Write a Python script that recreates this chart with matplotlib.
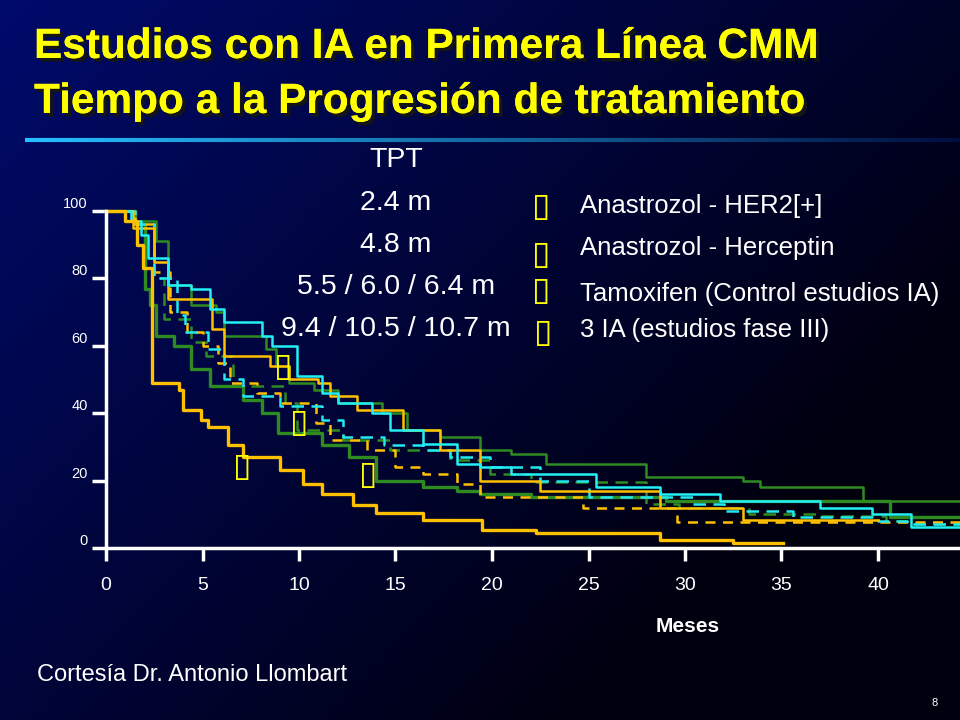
import numpy as np
import matplotlib
matplotlib.use("Agg")
import matplotlib.pyplot as plt
import matplotlib.patheffects as pe

# ---- data ----
title1 = "Estudios con IA en Primera Línea CMM"
title2 = "Tiempo a la Progresión de tratamiento"
tpt_labels = ["TPT", "2.4 m", "4.8 m", "5.5 / 6.0 / 6.4 m", "9.4 / 10.5 / 10.7 m"]
legend_labels = ["Anastrozol - HER2[+]", "Anastrozol - Herceptin",
                 "Tamoxifen (Control estudios IA)", "3 IA (estudios fase III)"]
x_ticks = [0, 5, 10, 15, 20, 25, 30, 35, 40]
y_ticks = [0, 20, 40, 60, 80, 100]

yel_low_t = [0, 1.0, 1.6, 1.9, 2.4, 3.8, 4.0, 4.9, 5.3, 6.3, 7.1, 9.0, 10.2, 11.2, 12.8, 14.0, 16.4, 19.5, 22.3, 28.7, 32.5, 35.1]
yel_low_s = [100, 97, 90, 83, 49, 47, 41, 38, 36, 30.6, 27, 23, 19, 16, 12.8, 10.4, 8.3, 5.3, 4.5, 2.4, 1.5, 1.5]

yel_up_t = [0, 1.4, 2.5, 3.2, 5.5, 6.1, 8.5, 9.5, 11.0, 11.6, 13.0, 15.4, 17.3, 19.4, 22.5, 28.7, 33.0, 40.0]
yel_up_s = [100, 95, 85, 74, 65, 57, 54, 50, 49, 45, 41, 35, 29, 20, 17, 12, 8.3, 8.3]

yel_dash_t = [0, 1.5, 2.5, 3.3, 4.2, 5.0, 5.8, 6.4, 7.8, 9.0, 10.9, 11.6, 13.5, 15.0, 16.4, 18.2, 19.4, 24.7, 29.6, 44.5]
yel_dash_s = [100, 96, 82, 70, 64, 60, 55, 49, 46, 43, 37, 32, 29, 24, 22, 19, 15, 12, 7.7, 7.7]

cyan_t = [0, 1.3, 1.8, 2.2, 3.2, 4.4, 5.4, 6.1, 8.1, 8.6, 9.9, 11.2, 12.0, 13.8, 14.7, 16.4, 18.2, 19.4, 21.0, 25.4, 28.7, 31.8, 37.0, 39.7, 41.7, 44.5]
cyan_s = [100, 97, 93, 86, 78, 77, 71, 67, 63, 60, 51, 46, 43, 40, 35, 31, 25, 24, 22, 18, 16, 14, 12, 10, 6.3, 6.3]

cyan_dash_t = [0, 1.5, 2.5, 3.7, 4.1, 5.3, 6.1, 7.1, 9.0, 11.2, 12.3, 14.4, 16.4, 17.8, 19.9, 22.5, 25.0, 30.4, 32.0, 35.6, 40.0, 41.5, 44.5]
cyan_dash_s = [100, 96, 80, 69, 64, 59, 50, 45, 42, 38, 33, 30.5, 29, 27, 24, 20, 15, 13, 11, 9.2, 8, 7, 7]

green_up_t = [0, 1.5, 2.6, 3.2, 4.4, 5.7, 6.1, 8.3, 8.8, 9.5, 10.8, 12.0, 14.3, 15.6, 17.3, 19.4, 21.0, 22.8, 28.0, 33.0, 33.9, 39.2, 44.5]
green_up_s = [100, 97, 91, 78, 72, 70, 63, 59, 54, 49, 47, 43, 40, 35, 33, 29, 28, 25, 21, 20, 18, 14, 13]

green_low_t = [0, 1.5, 2.0, 2.3, 2.6, 3.5, 4.4, 5.4, 7.1, 8.1, 8.9, 11.2, 12.6, 14.0, 16.4, 18.2, 19.4, 22.0, 29.0, 40.6, 44.5]
green_low_s = [100, 96, 77, 72, 63, 60, 53, 48, 44, 40, 34, 30.5, 27, 20, 18, 17, 16, 15, 13.8, 9.3, 9.3]

green_dash_t = [0, 1.5, 2.5, 3.0, 4.4, 5.2, 6.6, 9.3, 9.9, 12.3, 14.7, 17.8, 19.9, 22.0, 28.0, 29.7, 33.3, 36.8, 40.4, 41.5, 44.5]
green_dash_s = [100, 96, 80, 68, 61, 57, 48, 43, 35, 32, 29, 26, 22, 19.6, 13, 12, 10, 9.4, 8, 7, 7]

marker_pts_px = [(283, 367), (299, 423), (242, 466), (368, 474)]
legend_marker_px = [(541, 206), (541, 254), (541, 291), (543, 333)]

# ---- figure ----
W, H = 960, 720
fig = plt.figure(figsize=(9.6, 7.2), dpi=100)

bg = fig.add_axes([0, 0, 1, 1])
yy, xx = np.mgrid[0:1:200j, 0:1:200j]
f = np.clip(1 - (0.75 * xx + 0.55 * yy), 0, 1)
img = np.zeros((200, 200, 3))
img[..., 1] = 0.04 * f
img[..., 2] = 0.06 + 0.36 * f
bg.imshow(img, extent=[0, 1, 0, 1], aspect="auto", origin="upper")
bg.set_xlim(0, 1); bg.set_ylim(0, 1); bg.axis("off")

# separator line gradient
n = 200
xs = np.linspace(25, 960, n + 1)
for i in range(n):
    t = i / n
    c = (0.15 * (1 - t), 0.7 * (1 - t) + 0.05, 0.75 * (1 - t) + 0.25)
    bg.plot([xs[i] / W, xs[i + 1] / W], [1 - 140 / H] * 2, color=c, lw=3, solid_capstyle="butt")

def ftext(x, y, s, **kw):
    return fig.text(x / W, 1 - y / H, s, **kw)

shadow = [pe.withSimplePatchShadow(offset=(2.5, -2.5), shadow_rgbFace="#151515", alpha=1.0), pe.Normal()]
for dy, txt in [(0, title1), (1, title2)]:
    y = 47 + dy * 55
    t = ftext(34, y, txt, color="#FFFF00", fontsize=30.5, fontweight="bold", family="Liberation Sans", va="center")
    t.set_path_effects(shadow)

for y, s in zip([160, 203, 245, 287, 329], tpt_labels):
    ftext(396, y, s, color="white", fontsize=20.5, family="Liberation Sans", ha="center", va="center")
for y, s in zip([206, 248, 294, 330], legend_labels):
    ftext(580, y, s, color="white", fontsize=18.5, family="Liberation Sans", ha="left", va="center")
for (x, y) in legend_marker_px + marker_pts_px:
    ftext(x, y, "▯", color="#FFFF00", fontsize=24, family="DejaVu Sans", ha="center", va="center")

ftext(688, 627, "Meses", color="white", fontsize=15, fontweight="bold", family="Liberation Sans", ha="center", va="center")
ftext(37, 675, "Cortesía Dr. Antonio Llombart", color="white", fontsize=17, family="Liberation Sans", ha="left", va="center")
ftext(935, 703, "8", color="white", fontsize=8, family="Liberation Sans", ha="center", va="center")

# ---- main axes ----
x0, x1 = 106, 960
ytop, ybot = 200, 548
pxm = 19.3
pxp = 3.37
ax = fig.add_axes([x0 / W, 1 - ybot / H, (x1 - x0) / W, (ybot - ytop) / H])
ax.set_xlim(0, (x1 - x0) / pxm)
ax.set_ylim(0, (ybot - ytop) / pxp)
ax.patch.set_alpha(0)
for s in ["top", "right"]:
    ax.spines[s].set_visible(False)
for s in ["left", "bottom"]:
    ax.spines[s].set_color("white")
    ax.spines[s].set_linewidth(2.5)
ax.spines["left"].set_bounds(0, 100)

series = [
    (green_up_t, green_up_s, "#2E8B22", "-", 1.8),
    (green_low_t, green_low_s, "#2E8B22", "-", 2.4),
    (green_dash_t, green_dash_s, "#2E8B22", (0, (5, 3)), 1.8),
    (yel_dash_t, yel_dash_s, "#FFC000", (0, (4, 3)), 1.8),
    (cyan_dash_t, cyan_dash_s, "#22E8F0", (0, (5, 3)), 1.8),
    (yel_up_t, yel_up_s, "#FFC000", "-", 1.8),
    (cyan_t, cyan_s, "#22F0F4", "-", 1.8),
    (yel_low_t, yel_low_s, "#FFC000", "-", 2.4),
]
for t, s, c, ls, lw in series:
    ax.step(t, s, where="post", color=c, ls=ls, lw=lw, clip_on=False)

ax.set_xticks(x_ticks)
ax.set_xticklabels([str(v) for v in x_ticks], color="white", fontsize=14, family="Liberation Sans")
ax.tick_params(axis="x", colors="white", length=9, width=2.5, direction="out", pad=12)
ax.set_yticks(y_ticks)
ax.set_yticklabels([str(v) for v in y_ticks], color="white", fontsize=10.5, family="Liberation Sans")
ax.tick_params(axis="y", colors="white", length=10, width=2.5, direction="out", pad=3)
for lbl in ax.get_yticklabels():
    lbl.set_verticalalignment("bottom")

fig.savefig("out.png", dpi=100)
